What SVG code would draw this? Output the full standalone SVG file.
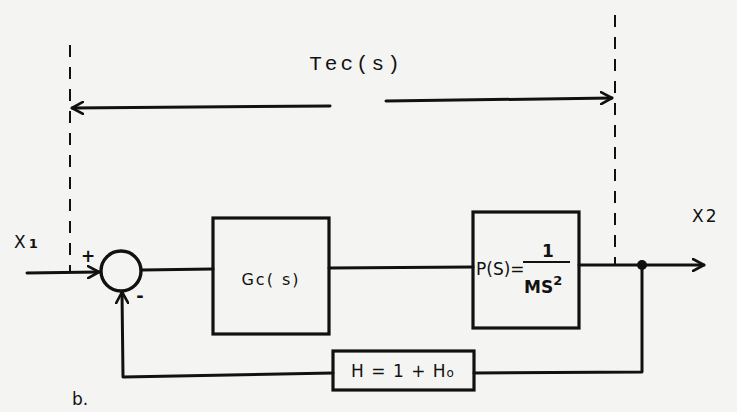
<svg xmlns="http://www.w3.org/2000/svg" width="737" height="412" viewBox="0 0 737 412">
<style>
.bg{fill:#f4f5f2}
.ln{fill:none;stroke:#111;stroke-width:3;stroke-linecap:round;stroke-linejoin:round}
.box{fill:none;stroke:#111;stroke-width:3.2}
.dash{fill:none;stroke:#111;stroke-width:2;stroke-dasharray:12 10}
.t{font-family:"DejaVu Sans","Liberation Sans",sans-serif;fill:#111}
.mono{font-family:"Liberation Mono","DejaVu Sans Mono",monospace;fill:#111}
</style>
<defs>
<marker id="ah" markerWidth="14" markerHeight="14" refX="12" refY="7" orient="auto" markerUnits="userSpaceOnUse">
<path d="M1,1 L12,7 L1,13" fill="none" stroke="#111" stroke-width="2.6" stroke-linecap="round" stroke-linejoin="round"/>
</marker>
</defs>
<rect class="bg" x="0" y="0" width="737" height="412"/>

<g id="dimension">
<line class="dash" x1="70" y1="45" x2="70" y2="272"/>
<line class="dash" x1="615" y1="15" x2="615" y2="265"/>
<text class="mono" x="356" y="70" font-size="21" text-anchor="middle" letter-spacing="3">Tec(s)</text>
</g>

<g id="connectors">
<line class="ln" x1="330" y1="106" x2="72" y2="108" marker-end="url(#ah)"/>
<line class="ln" x1="386" y1="101" x2="612" y2="98" marker-end="url(#ah)"/>
<line class="ln" x1="27" y1="273" x2="99" y2="272" marker-end="url(#ah)"/>
<line class="ln" x1="142" y1="270" x2="213" y2="269"/>
<line class="ln" x1="329" y1="268" x2="473" y2="267"/>
<line class="ln" x1="579" y1="265" x2="704" y2="265" marker-end="url(#ah)"/>
<polyline class="ln" points="642,265 642,372 474,373"/>
<polyline class="ln" points="333,373 123,377 122,292" marker-end="url(#ah)"/>
<circle cx="642" cy="265" r="5" fill="#111"/>
</g>

<g id="sum">
<circle cx="121" cy="271" r="20" fill="none" stroke="#111" stroke-width="3.4"/>
<text class="t" x="88" y="262" font-size="17" font-weight="bold" text-anchor="middle">+</text>
<text class="t" x="140" y="302" font-size="18" font-weight="bold" text-anchor="middle">-</text>
</g>

<g id="Gc">
<rect class="box" x="213" y="218" width="116" height="116"/>
<text class="t" x="271" y="285" font-size="16" text-anchor="middle" letter-spacing="2">Gc( s)</text>
</g>

<g id="P">
<rect class="box" x="473" y="212" width="106" height="116"/>
<text class="t" x="476" y="275" font-size="17">P(S)=</text>
<text class="t" x="548" y="257" font-size="17" font-weight="bold" text-anchor="middle">1</text>
<line x1="523" y1="262" x2="570" y2="262" stroke="#111" stroke-width="2"/>
<text class="t" x="524" y="293" font-size="17" font-weight="bold">MS<tspan dy="-8" font-size="13">2</tspan></text>
</g>

<g id="H">
<rect class="box" x="333" y="351" width="141" height="39"/>
<text class="t" x="403" y="377" font-size="17" text-anchor="middle" letter-spacing="1">H = 1 + H<tspan font-size="12">o</tspan></text>
</g>

<g id="labels">
<text class="t" x="14" y="248" font-size="17">X<tspan font-size="13" font-weight="bold" dx="3">1</tspan></text>
<text class="t" x="692" y="222" font-size="17">X<tspan dx="2">2</tspan></text>
<text class="t" x="72" y="405" font-size="17">b.</text>
</g>
</svg>
